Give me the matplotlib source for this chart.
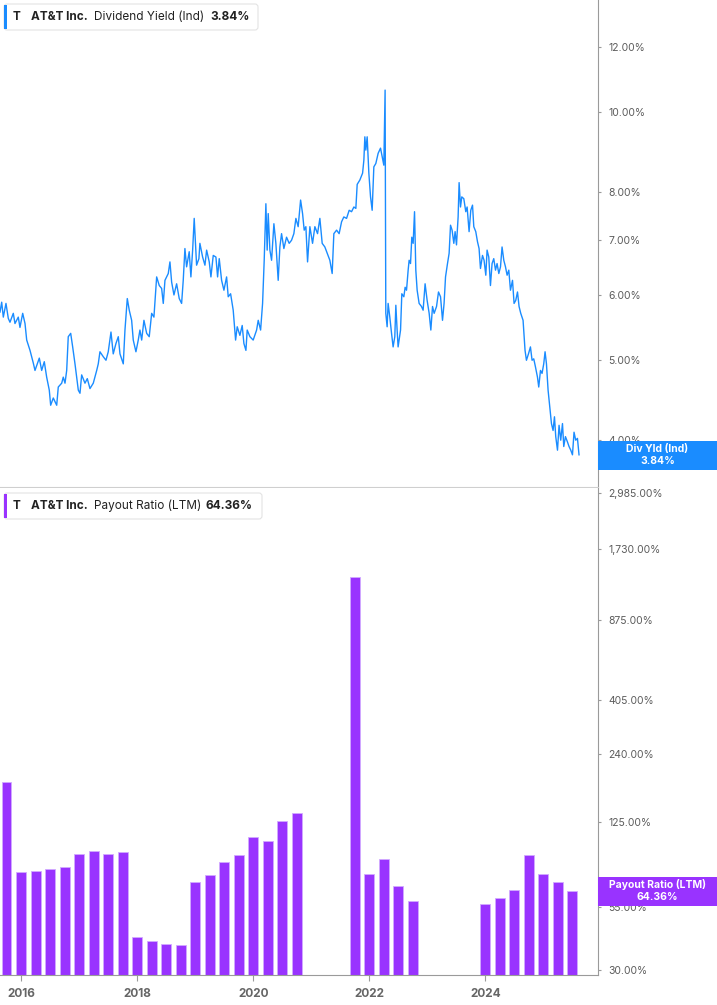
import matplotlib

matplotlib.use("Agg")

import matplotlib.pyplot as plt
from matplotlib.patches import FancyBboxPatch, Rectangle
from matplotlib.ticker import NullLocator
from matplotlib.transforms import IdentityTransform

plt.rcParams["font.family"] = ["Inter", "DejaVu Sans"]

# dividend yield (Ind), % -- dates as decimal years
yield_dates = [
    2015.638, 2015.667, 2015.695, 2015.741, 2015.781, 2015.810, 2015.867, 2015.896, 2015.953, 2015.982,
    2016.029, 2016.069, 2016.098, 2016.155, 2016.212, 2016.241, 2016.315, 2016.356, 2016.401, 2016.442,
    2016.487, 2016.511, 2016.556, 2016.615, 2016.642, 2016.701, 2016.728, 2016.758, 2016.787, 2016.814,
    2016.856, 2016.890, 2016.930, 2016.987, 2017.016, 2017.045, 2017.102, 2017.142, 2017.188, 2017.245,
    2017.304, 2017.331, 2017.360, 2017.417, 2017.464, 2017.503, 2017.550, 2017.589, 2017.636, 2017.676,
    2017.705, 2017.762, 2017.791, 2017.831, 2017.865, 2017.906, 2017.934, 2017.980, 2018.020, 2018.049,
    2018.079, 2018.118, 2018.165, 2018.209, 2018.251, 2018.290, 2018.337, 2018.382, 2018.423, 2018.451,
    2018.480, 2018.537, 2018.566, 2018.595, 2018.635, 2018.681, 2018.726, 2018.767, 2018.795, 2018.824,
    2018.853, 2018.898, 2018.927, 2018.957, 2018.984, 2019.025, 2019.065, 2019.082, 2019.129, 2019.169,
    2019.198, 2019.243, 2019.272, 2019.312, 2019.358, 2019.387, 2019.415, 2019.456, 2019.496, 2019.542,
    2019.570, 2019.611, 2019.656, 2019.697, 2019.725, 2019.771, 2019.811, 2019.840, 2019.875, 2019.897,
    2019.944, 2020.000, 2020.059, 2020.087, 2020.128, 2020.162, 2020.190, 2020.219, 2020.241, 2020.259,
    2020.288, 2020.317, 2020.357, 2020.391, 2020.431, 2020.460, 2020.489, 2020.529, 2020.575, 2020.620,
    2020.661, 2020.701, 2020.736, 2020.775, 2020.817, 2020.851, 2020.879, 2020.908, 2020.937, 2020.977,
    2021.023, 2021.063, 2021.109, 2021.149, 2021.189, 2021.235, 2021.275, 2021.321, 2021.361, 2021.390,
    2021.437, 2021.481, 2021.523, 2021.562, 2021.609, 2021.654, 2021.695, 2021.735, 2021.769, 2021.792,
    2021.838, 2021.885, 2021.907, 2021.924, 2021.941, 2021.964, 2021.993, 2022.022, 2022.050, 2022.079,
    2022.113, 2022.153, 2022.194, 2022.229, 2022.251, 2022.273, 2022.285, 2022.308, 2022.325, 2022.354,
    2022.384, 2022.411, 2022.440, 2022.458, 2022.480, 2022.497, 2022.539, 2022.561, 2022.596, 2022.618,
    2022.642, 2022.670, 2022.687, 2022.711, 2022.733, 2022.756, 2022.780, 2022.802, 2022.825, 2022.859,
    2022.900, 2022.928, 2022.962, 2022.997, 2023.032, 2023.061, 2023.090, 2023.118, 2023.159, 2023.193,
    2023.228, 2023.262, 2023.289, 2023.314, 2023.348, 2023.376, 2023.400, 2023.427, 2023.457, 2023.479,
    2023.503, 2023.531, 2023.548, 2023.572, 2023.594, 2023.629, 2023.663, 2023.686, 2023.720, 2023.749,
    2023.779, 2023.801, 2023.835, 2023.865, 2023.892, 2023.916, 2023.951, 2023.978, 2024.008, 2024.030,
    2024.059, 2024.088, 2024.116, 2024.145, 2024.175, 2024.202, 2024.232, 2024.261, 2024.288, 2024.318,
    2024.347, 2024.375, 2024.404, 2024.433, 2024.468, 2024.495, 2024.524, 2024.554, 2024.581, 2024.610,
    2024.650, 2024.684, 2024.708, 2024.743, 2024.777, 2024.805, 2024.834, 2024.863, 2024.898, 2024.920,
    2024.950, 2024.977, 2025.006, 2025.029, 2025.053, 2025.081, 2025.110, 2025.139, 2025.167, 2025.191,
    2025.213, 2025.243, 2025.270, 2025.299, 2025.329, 2025.351, 2025.380, 2025.415, 2025.442, 2025.472,
    2025.501, 2025.528, 2025.557, 2025.587, 2025.614,
]
yield_values = [
    5.72, 5.88, 5.64, 5.86, 5.62, 5.56, 5.70, 5.54, 5.64, 5.48,
    5.70, 5.54, 5.29, 5.14, 4.96, 4.86, 5.03, 4.86, 4.98, 4.77,
    4.60, 4.41, 4.50, 4.41, 4.64, 4.69, 4.77, 4.69, 4.86, 5.34,
    5.39, 5.19, 4.95, 4.60, 4.56, 4.80, 4.69, 4.75, 4.62, 4.69,
    4.86, 4.95, 5.12, 5.05, 5.00, 5.12, 5.41, 5.09, 5.24, 5.34,
    5.09, 4.95, 5.44, 5.94, 5.75, 5.59, 5.29, 5.12, 5.29, 5.44,
    5.29, 5.59, 5.39, 5.34, 5.70, 5.64, 6.31, 6.16, 6.11, 5.86,
    6.25, 6.37, 6.58, 6.22, 6.00, 6.19, 5.94, 5.86, 6.25, 6.83,
    6.49, 6.77, 6.31, 6.80, 7.43, 6.52, 6.64, 6.93, 6.67, 6.52,
    6.80, 6.58, 6.31, 6.70, 6.67, 6.31, 6.64, 6.25, 6.08, 6.31,
    5.97, 6.02, 5.75, 5.29, 5.49, 5.36, 5.51, 5.24, 5.14, 5.44,
    5.34, 5.29, 5.44, 5.59, 5.44, 5.86, 6.61, 7.74, 6.80, 7.53,
    6.80, 6.61, 7.32, 6.93, 6.25, 6.86, 7.12, 6.83, 7.05, 6.93,
    6.99, 7.12, 7.43, 7.26, 7.82, 7.53, 7.19, 7.26, 6.58, 7.26,
    6.93, 7.26, 7.12, 7.43, 6.93, 6.86, 6.74, 6.61, 6.37, 7.12,
    7.19, 7.12, 7.36, 7.46, 7.43, 7.60, 7.57, 7.67, 7.64, 8.17,
    8.27, 8.43, 8.74, 9.33, 8.99, 9.33, 8.43, 7.89, 7.60, 8.58,
    8.66, 8.91, 9.04, 8.78, 8.62, 10.63, 5.70, 5.49, 5.86, 5.64,
    5.39, 5.19, 5.34, 5.83, 5.44, 5.19, 5.44, 6.02, 5.97, 6.13,
    6.08, 6.43, 6.61, 6.55, 7.05, 6.93, 7.57, 6.43, 6.08, 5.86,
    5.81, 5.75, 6.19, 5.91, 5.70, 5.44, 5.81, 5.70, 5.81, 6.05,
    5.97, 5.59, 5.86, 6.31, 6.55, 6.74, 7.29, 7.19, 6.93, 7.16,
    6.90, 7.46, 8.21, 7.67, 7.89, 7.85, 7.57, 7.67, 7.16, 7.60,
    7.71, 7.26, 7.16, 6.96, 6.83, 6.46, 6.70, 6.61, 6.34, 6.80,
    6.67, 6.16, 6.55, 6.64, 6.43, 6.55, 6.37, 6.49, 6.86, 6.61,
    6.49, 6.34, 6.43, 6.08, 6.25, 5.86, 5.91, 6.05, 5.81, 5.70,
    5.59, 5.14, 5.00, 5.09, 5.19, 5.00, 5.02, 4.91, 4.77, 4.64,
    4.86, 4.82, 4.95, 5.12, 4.95, 4.60, 4.39, 4.19, 4.11, 4.27,
    4.04, 3.89, 4.17, 4.00, 4.19, 3.93, 4.04, 3.98, 3.93, 3.89,
    3.84, 4.09, 4.00, 4.02, 3.84,
]

# payout ratio (LTM), % per quarter
payout_quarters = [
    "2015Q3", "2015Q4", "2016Q1", "2016Q2", "2016Q3", "2016Q4", "2017Q1", "2017Q2", "2017Q3",
    "2017Q4", "2018Q1", "2018Q2", "2018Q3", "2018Q4", "2019Q1", "2019Q2", "2019Q3", "2019Q4",
    "2020Q1", "2020Q2", "2020Q3",
    "2021Q3", "2021Q4", "2022Q1", "2022Q2", "2022Q3",
    "2023Q4", "2024Q1", "2024Q2", "2024Q3", "2024Q4", "2025Q1", "2025Q2",
]
payout_values = [
    183.0, 76.9, 77.7, 79.4, 81.2, 91.8, 94.5, 91.5, 93.6,
    41.2, 39.7, 38.4, 38.3, 69.8, 75.2, 85.2, 91.1, 108.1,
    104.0, 125.8, 135.8,
    1321.0, 75.7, 87.5, 67.2, 58.3,
    56.8, 60.2, 64.7, 91.1, 75.7, 70.0, 64.36,
]

yield_ticks = [4, 5, 6, 7, 8, 10, 12]
payout_ticks = [30, 55, 125, 240, 405, 875, 1730, 2985]
year_ticks = [2016, 2018, 2020, 2022, 2024]

W, H = 717, 1005
BLUE = "#1a8cff"
PURPLE = "#9933ff"
AXIS_GRAY = "#9a9a9a"
TEXT_GRAY = "#5c5c5c"


def quarter_end(label):
    year, q = label.split("Q")
    return int(year) + int(q) / 4


fig = plt.figure(figsize=(W / 100, H / 100), dpi=100)
ax_top = fig.add_axes([0, 1 - 487 / H, 598 / W, 487 / H])
ax_bot = fig.add_axes([0, 1 - 975 / H, 598 / W, 487 / H], sharex=ax_top)

ax_top.plot(yield_dates, yield_values, color=BLUE, lw=1.0)
ax_top.set_yscale("log")
ax_top.set_ylim(3.51, 13.67)

ax_bot.set_yscale("log", nonpositive="clip")
ax_bot.bar([quarter_end(q) for q in payout_quarters], payout_values, width=0.172,
           color=PURPLE, edgecolor="#d2aaff", linewidth=0.6)
ax_bot.set_ylim(28.6, 3120)
ax_bot.set_xlim(2015.638, 2025.941)

for ax, ticks in ((ax_top, yield_ticks), (ax_bot, payout_ticks)):
    ax.yaxis.tick_right()
    ax.set_yticks(ticks)
    ax.set_yticklabels([f"{t:,.2f}%" for t in ticks])
    ax.yaxis.set_minor_locator(NullLocator())
    ax.tick_params(axis="y", direction="out", length=2.5, width=0.8, color=AXIS_GRAY,
                   labelsize=7.5, labelcolor=TEXT_GRAY, pad=5)
    for side in ("left", "top"):
        ax.spines[side].set_visible(False)
    ax.spines["right"].set_color(AXIS_GRAY)
    ax.spines["bottom"].set_color(AXIS_GRAY)

ax_top.spines["bottom"].set_color("#cfcfcf")
ax_top.tick_params(axis="x", bottom=False, labelbottom=False)

ax_bot.set_xticks(year_ticks)
ax_bot.set_xticklabels([str(y) for y in year_ticks], fontweight="bold")
ax_bot.xaxis.set_minor_locator(NullLocator())
ax_bot.tick_params(axis="x", length=4, width=0.8, color=AXIS_GRAY,
                   labelsize=8.5, labelcolor="#666666", pad=5)

# header legends
def header(top, width, stripe, label, value, value_x):
    box = FancyBboxPatch((4, H - top - 26), width, 26, boxstyle="round,pad=0,rounding_size=3",
                         transform=IdentityTransform(), facecolor="white",
                         edgecolor="#e3e3e3", linewidth=0.8, zorder=5)
    fig.patches.append(box)
    fig.patches.append(Rectangle((4, H - top - 25), 3, 24, transform=IdentityTransform(),
                                 facecolor=stripe, edgecolor="none", zorder=6))
    yc = 1 - (top + 13) / H
    kw = dict(va="center", ha="left", fontsize=8.5, color="#222222", zorder=7)
    fig.text(13 / W, yc, "T", fontweight="bold", **kw)
    fig.text(31 / W, yc, "AT&T Inc.", fontweight="bold", **kw)
    fig.text(94 / W, yc, label, **kw)
    fig.text(value_x / W, yc, value, fontweight="bold", **kw)


header(4, 254, BLUE, "Dividend Yield (Ind)", "3.84%", 210)
header(493, 258, PURPLE, "Payout Ratio (LTM)", "64.36%", 206)

# value flags on the right axis
fig.canvas.draw()


def flag(ax, x, value, color, title, text):
    yd = ax.transData.transform((x, value))[1]
    fig.patches.append(Rectangle((598, yd - 15), W - 598, 29, transform=IdentityTransform(),
                                 facecolor=color, edgecolor="none", zorder=8))
    xc = (598 + W) / 2 / W
    fig.text(xc, (yd + 6) / H, title, ha="center", va="center", fontsize=7.5,
             fontweight="bold", color="white", zorder=9)
    fig.text(xc, (yd - 6) / H, text, ha="center", va="center", fontsize=7.5,
             fontweight="bold", color="white", zorder=9)


flag(ax_top, yield_dates[-1], yield_values[-1], BLUE, "Div Yld (Ind)", "3.84%")
flag(ax_bot, quarter_end(payout_quarters[-1]), payout_values[-1], PURPLE,
     "Payout Ratio (LTM)", "64.36%")

fig.savefig("out.png", dpi=100)
